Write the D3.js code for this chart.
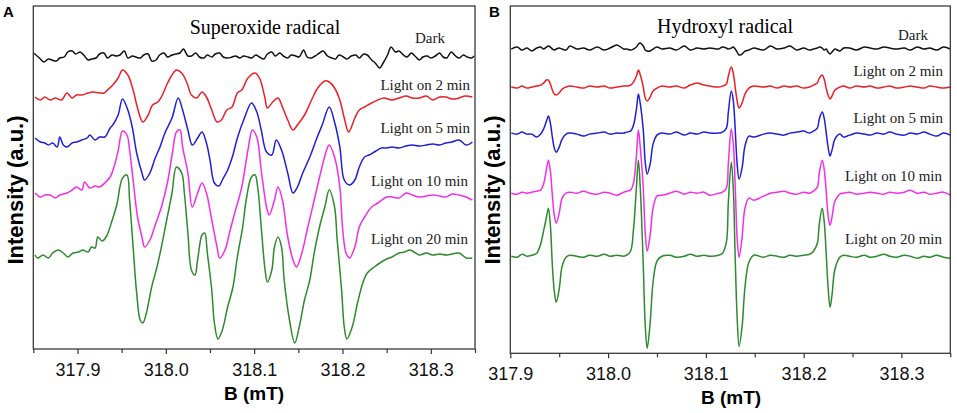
<!DOCTYPE html>
<meta charset="utf-8">
<style>
  body { margin: 0; background: #fff; }
  svg { display: block; }
  .tick text { font-family: "Liberation Sans", Arial, sans-serif; font-size: 18px; fill: #111; }
  .tick line { stroke: #333; stroke-width: 1.2; }
</style>
<svg width="957" height="413"></svg>
<script src="https://cdn.jsdelivr.net/npm/d3@7/dist/d3.min.js"></script>
<script>

var majorTicks = [317.9, 318.0, 318.1, 318.2, 318.3];
var minorTicks = [317.85, 317.95, 318.05, 318.15, 318.25, 318.35];
var traceNames = ["Dark", "Light on 2 min", "Light on 5 min", "Light on 10 min", "Light on 20 min"];

// A - superoxide (DMPO-O2), pairs of [B (mT), intensity (a.u.)]
var superoxideDark = [[317.850,4],[317.853,2],[317.858,-2],[317.862,-5],[317.867,-2],[317.871,-3],[317.876,-4],[317.880,-1],[317.885,0],[317.889,5],[317.894,6],[317.898,3],[317.903,5],[317.907,2],[317.912,-3],[317.916,-2],[317.921,-1],[317.925,3],[317.930,4],[317.934,-1],[317.939,2],[317.944,1],[317.948,2],[317.953,6],[317.957,-1],[317.962,1],[317.966,0],[317.971,-1],[317.975,2],[317.980,3],[317.984,-4],[317.989,-3],[317.993,2],[317.998,4],[318.002,0],[318.007,2],[318.011,3],[318.016,4],[318.020,8],[318.025,1],[318.029,1],[318.034,4],[318.038,0],[318.043,-1],[318.047,2],[318.052,0],[318.056,3],[318.061,4],[318.065,0],[318.070,-1],[318.075,0],[318.079,1],[318.084,-1],[318.088,1],[318.093,0],[318.097,-1],[318.102,2],[318.106,0],[318.111,-2],[318.115,3],[318.120,5],[318.124,1],[318.129,4],[318.133,1],[318.138,-1],[318.142,2],[318.147,1],[318.151,0],[318.156,7],[318.160,0],[318.165,-1],[318.169,1],[318.174,4],[318.178,6],[318.183,1],[318.188,-1],[318.192,-2],[318.196,2],[318.201,0],[318.205,-2],[318.210,1],[318.215,2],[318.219,-1],[318.224,3],[318.228,2],[318.233,-3],[318.237,-6],[318.242,-11],[318.246,-6],[318.251,2],[318.255,10],[318.260,5],[318.264,6],[318.269,2],[318.273,0],[318.278,4],[318.282,1],[318.287,-3],[318.291,0],[318.296,1],[318.300,-1],[318.305,1],[318.310,4],[318.314,0],[318.318,-1],[318.323,5],[318.328,1],[318.332,-1],[318.337,2],[318.341,0],[318.346,-1],[318.349,1]];

var superoxide2min = [[317.852,0],[317.858,-3],[317.863,0],[317.869,-3],[317.875,-1],[317.882,-3],[317.888,4],[317.894,-1],[317.899,2],[317.905,2],[317.912,4],[317.917,5],[317.925,4],[317.930,4],[317.934,7],[317.940,12],[317.946,19],[317.951,27],[317.957,22],[317.963,7],[317.968,-11],[317.974,-25],[317.980,-18],[317.985,-8],[317.991,-5],[317.995,0],[318.001,12],[318.007,22],[318.012,27],[318.018,24],[318.024,14],[318.029,2],[318.035,-1],[318.041,5],[318.046,0],[318.052,-13],[318.058,-25],[318.063,-23],[318.069,-13],[318.075,-10],[318.081,4],[318.086,7],[318.093,19],[318.101,24],[318.106,19],[318.112,0],[318.115,-11],[318.121,-5],[318.127,-1],[318.132,-10],[318.138,-23],[318.144,-33],[318.149,-28],[318.157,-18],[318.165,-3],[318.172,9],[318.180,16],[318.185,15],[318.191,9],[318.197,-3],[318.202,-21],[318.207,-35],[318.214,-21],[318.219,-13],[318.225,-10],[318.233,-6],[318.240,-3],[318.247,-1],[318.256,-3],[318.264,-1],[318.272,1],[318.279,-1],[318.287,-1],[318.295,1],[318.302,-3],[318.310,0],[318.317,0],[318.324,-2],[318.332,-1],[318.339,1],[318.347,0]];

var superoxide5min = [[317.852,4],[317.858,0],[317.863,-1],[317.867,-3],[317.872,-1],[317.877,-5],[317.880,5],[317.884,-3],[317.888,-5],[317.894,-1],[317.899,0],[317.905,2],[317.911,4],[317.914,7],[317.920,2],[317.925,5],[317.931,5],[317.937,14],[317.940,17],[317.946,27],[317.951,43],[317.957,32],[317.962,15],[317.967,-11],[317.973,-31],[317.976,-38],[317.982,-31],[317.988,-16],[317.993,-6],[317.999,9],[318.007,24],[318.014,44],[318.019,32],[318.025,12],[318.030,-3],[318.036,4],[318.041,10],[318.046,-1],[318.050,-18],[318.055,-41],[318.060,-44],[318.064,-38],[318.070,-28],[318.076,-13],[318.081,4],[318.089,24],[318.097,39],[318.103,30],[318.108,12],[318.114,-10],[318.120,-13],[318.125,2],[318.131,-8],[318.138,-31],[318.144,-51],[318.149,-45],[318.155,-31],[318.163,-15],[318.171,4],[318.177,17],[318.185,35],[318.191,20],[318.197,-5],[318.202,-38],[318.208,-43],[318.214,-38],[318.219,-25],[318.225,-15],[318.230,-13],[318.236,-10],[318.244,-6],[318.250,-6],[318.256,-5],[318.264,-6],[318.272,-4],[318.279,-3],[318.287,-4],[318.295,-3],[318.302,-2],[318.310,-3],[318.317,-1],[318.324,0],[318.332,2],[318.340,-3],[318.347,0]];

var superoxide10min = [[317.852,2],[317.858,-2],[317.863,0],[317.869,0],[317.875,-3],[317.880,0],[317.888,2],[317.894,5],[317.899,8],[317.905,5],[317.908,13],[317.914,7],[317.920,9],[317.925,8],[317.931,12],[317.937,18],[317.942,30],[317.946,44],[317.951,64],[317.956,60],[317.959,45],[317.963,15],[317.968,-22],[317.973,-42],[317.976,-52],[317.982,-45],[317.988,-30],[317.995,-12],[318.002,13],[318.008,45],[318.012,63],[318.016,65],[318.019,48],[318.025,22],[318.030,-12],[318.036,2],[318.041,12],[318.046,2],[318.052,-25],[318.058,-52],[318.061,-63],[318.067,-55],[318.072,-38],[318.078,-18],[318.086,8],[318.093,45],[318.098,65],[318.103,58],[318.108,25],[318.114,-12],[318.117,-20],[318.123,-5],[318.127,8],[318.132,-5],[318.138,-42],[318.144,-65],[318.148,-72],[318.154,-58],[318.160,-35],[318.168,-5],[318.176,25],[318.182,45],[318.185,50],[318.191,38],[318.197,8],[318.200,-32],[318.204,-58],[318.208,-63],[318.214,-52],[318.219,-32],[318.225,-22],[318.233,-12],[318.240,-8],[318.250,-2],[318.256,-2],[318.264,-3],[318.272,2],[318.279,0],[318.287,-2],[318.295,-1],[318.302,0],[318.310,-1],[318.317,-2],[318.324,1],[318.332,0],[318.340,-2],[318.347,-5]];

var superoxide20min = [[317.852,0],[317.855,-3],[317.861,0],[317.867,-3],[317.872,2],[317.878,5],[317.884,2],[317.889,-2],[317.895,2],[317.901,3],[317.906,5],[317.912,3],[317.916,8],[317.920,7],[317.923,18],[317.928,14],[317.933,19],[317.939,34],[317.945,52],[317.948,68],[317.951,77],[317.956,80],[317.959,55],[317.963,8],[317.967,-38],[317.971,-65],[317.974,-68],[317.978,-58],[317.984,-32],[317.990,-12],[317.995,8],[318.001,35],[318.007,62],[318.012,88],[318.018,82],[318.021,62],[318.025,22],[318.029,-15],[318.033,-20],[318.036,-5],[318.041,20],[318.044,22],[318.047,2],[318.052,-35],[318.055,-68],[318.059,-84],[318.064,-75],[318.070,-52],[318.076,-32],[318.081,-2],[318.087,28],[318.091,55],[318.097,78],[318.101,80],[318.104,68],[318.108,28],[318.112,-12],[318.115,-27],[318.120,-15],[318.123,8],[318.127,18],[318.131,8],[318.134,-25],[318.140,-65],[318.146,-88],[318.151,-72],[318.157,-45],[318.163,-25],[318.168,2],[318.174,28],[318.180,48],[318.185,65],[318.191,48],[318.194,15],[318.199,-35],[318.202,-72],[318.205,-84],[318.211,-72],[318.217,-48],[318.223,-28],[318.228,-18],[318.236,-12],[318.244,-7],[318.250,-4],[318.256,-2],[318.264,2],[318.270,3],[318.276,5],[318.281,3],[318.287,0],[318.295,2],[318.302,0],[318.310,1],[318.317,0],[318.324,1],[318.332,2],[318.340,-3],[318.347,-3]];

// stacking offsets of the five spectra (a.u.)
var superoxideOffsets = [292, 252, 207, 154, 94];

// B - hydroxyl (DMPO-OH), one field sweep shared by all five spectra
var hydroxylField = [
  317.901, 317.907, 317.912, 317.917, 317.922,
  317.927, 317.931, 317.934, 317.937, 317.939, 317.941, 317.943, 317.945, 317.947, 317.950, 317.953, 317.957, 317.961,
  317.968, 317.975, 317.981, 317.989, 317.996, 318.002, 318.009, 318.016,
  318.019, 318.023, 318.026, 318.029, 318.031, 318.033, 318.036, 318.038, 318.040, 318.043, 318.046, 318.050, 318.055,
  318.063, 318.070, 318.078, 318.084, 318.091, 318.098, 318.104,
  318.113, 318.117, 318.121, 318.123, 318.126, 318.128, 318.130, 318.132, 318.134, 318.137, 318.140, 318.144, 318.149,
  318.159, 318.166, 318.173, 318.180, 318.186, 318.193, 318.200,
  318.206, 318.210, 318.214, 318.216, 318.219, 318.221, 318.223, 318.225, 318.227, 318.229, 318.232, 318.237, 318.241,
  318.247, 318.254, 318.262, 318.268, 318.275, 318.282, 318.288, 318.295, 318.303, 318.309, 318.316, 318.323, 318.329, 318.336, 318.343, 318.350
];

var hydroxylDark = [
  -1, 1, -2, 0, -3,
  0, 1, -1, 1, 2, 1, -1, -2, -1, 0, -1, -2, 2,
  -1, 0, -2, 1, -2, 0, 3, -1,
  -1, -2, -1, 1, 4, 5, 2, -2, -3, -3, -1, 1, -1,
  0, -2, 2, -2, 0, -1, 0,
  -1, 1, 0, -1, 0, 1, -1, -4, -7, -6, -3, -2, 0,
  -2, 2, -1, 0, 2, -2, 0,
  -2, -1, 0, 1, 0, -2, -1, -4, -6, -4, -1, -3, 0,
  0, -2, 1, 0, -1, 1, 0, -1, 0, -2, 1, -1, 0, -2, 1, -1
];

var hydroxyl2min = [
  0, -1, 1, -1, 0,
  1, 2, 4, 7, 7, 3, -3, -7, -8, -6, -2, 0, 1,
  0, -1, 1, 0, 1, -1, 0, 1,
  1, 2, 5, 11, 17, 12, 0, -11, -14, -10, -4, -1, 1,
  0, 1, -1, 2, 4, 2, 1,
  0, 1, 3, 11, 20, 14, 0, -14, -21, -16, -7, -1, 1,
  0, 1, -1, 1, 0, 1, -1,
  0, 2, 4, 9, 12, 8, -1, -8, -12, -9, -3, 0, 1,
  -1, 1, 0, 1, -1, 0, 1, -1, 0, 1, 0, -1, 1, 0, -1, 0
];

var hydroxyl5min = [
  1, 0, 2, 0, 0,
  -3, 0, 5, 13, 18, 11, -3, -14, -18, -13, -5, 0, 1,
  0, -2, 0, 1, 2, 0, 1, 1,
  2, 3, 9, 25, 40, 30, 4, -28, -40, -30, -10, -1, 1,
  0, 2, -1, 1, 0, 2, 1,
  1, 2, 6, 22, 43, 34, 5, -30, -45, -34, -12, -2, -3,
  0, 1, 0, -1, 1, 2, 3,
  1, 3, 6, 15, 22, 16, 2, -13, -22, -16, -5, 0, -3,
  -1, 1, 0, -1, 1, 0, 2, 0, -1, 1, 0, 2, 0, -2, 1, -1
];

var hydroxyl10min = [
  0, -1, 1, 0, 1,
  2, 3, 9, 24, 33, 22, -2, -22, -30, -20, -5, 0, 1,
  0, 2, 0, -1, 1, 0, -2, 1,
  2, 3, 10, 38, 63, 45, 5, -40, -58, -42, -15, -3, -2,
  0, 2, -1, 1, 0, 1, -2,
  0, 1, 5, 30, 64, 50, 8, -45, -64, -45, -15, -5, -7,
  -3, 0, 1, 2, 0, -1, 1,
  0, 2, 6, 20, 33, 24, 3, -22, -32, -24, -8, -1, 0,
  1, -1, 0, 1, 0, -1, 1, 0, 1, 3, 0, 1, -1, 0, 1, -2
];

var hydroxyl20min = [
  1, 0, 3, 1, 2,
  4, 13, 26, 40, 49, 32, -8, -34, -45, -32, -9, 0, 2,
  1, 0, 2, 1, 3, 1, 2, 1,
  2, 6, 28, 70, 97, 68, -8, -68, -91, -66, -25, -4, 1,
  2, 0, 1, 3, 1, 2, 1,
  2, 4, 15, 55, 95, 70, 0, -60, -89, -70, -30, -5, 2,
  0, 2, 1, 0, 2, 1, 2,
  3, 6, 14, 33, 49, 36, 5, -30, -50, -38, -12, 0, 2,
  1, 0, 2, 0, 1, 3, 1, 0, 2, 1, -1, 1, 0, 2, 0, -1
];

var hydroxylOffsets = [305, 266, 219, 160, 96];

var colors = ["#111111", "#ec1f26", "#1f1fd8", "#f22ee8", "#2d8a2d"];

function pairUp(field, values) {
  return values.map(function(v, i) { return [field[i], v]; });
}

var panels = [
  {
    letter: "A", letterX: 3, title: "Superoxide radical", titleX: 265, titleY: 34,
    left: 33.3, right: 475, top: 6, bottom: 349, domain: [317.85, 318.35], yMax: 343,
    traces: [superoxideDark, superoxide2min, superoxide5min, superoxide10min, superoxide20min],
    offsets: superoxideOffsets,
    labelRight: [445, 470, 470, 468, 468], labelLift: [14, 7, 9, 9, 11],
    yLabelX: 23, axisLabelX: 254, axisLabelY: 400
  },
  {
    letter: "B", letterX: 489, title: "Hydroxyl radical", titleX: 725, titleY: 33,
    left: 510.3, right: 950.3, top: 6, bottom: 353.3, domain: [317.9, 318.35], yMax: 347,
    traces: [hydroxylDark, hydroxyl2min, hydroxyl5min, hydroxyl10min, hydroxyl20min].map(function(t) { return pairUp(hydroxylField, t); }),
    offsets: hydroxylOffsets,
    labelRight: [928, 943, 943, 942, 942], labelLift: [8, 11, 11, 12, 13],
    yLabelX: 500, axisLabelX: 731, axisLabelY: 404
  }
];

var svg = d3.select("svg");

panels.forEach(function(p) {
  var x = d3.scaleLinear().domain(p.domain).range([p.left, p.right]);
  var y = d3.scaleLinear().domain([0, p.yMax]).range([p.bottom, p.top]);
  var g = svg.append("g");

  // spectra
  var line = d3.line()
      .x(function(d) { return x(d[0]); })
      .curve(d3.curveCatmullRom.alpha(0.5));

  p.traces.forEach(function(t, i) {
    var off = p.offsets[i];
    g.append("path")
        .attr("d", line.y(function(d) { return y(d[1] + off); })(t))
        .attr("fill", "none")
        .attr("stroke", colors[i])
        .attr("stroke-width", 1.5)
        .attr("stroke-linejoin", "round");

    g.append("text")
        .attr("x", p.labelRight[i])
        .attr("y", y(off) - p.labelLift[i])
        .attr("text-anchor", "end")
        .style("font-family", "'Liberation Serif', 'Times New Roman', serif")
        .style("font-size", "15px")
        .style("fill", "#222")
        .text(traceNames[i]);
  });

  // frame
  g.append("rect")
      .attr("x", p.left).attr("y", p.top)
      .attr("width", p.right - p.left).attr("height", p.bottom - p.top)
      .attr("fill", "none").attr("stroke", "#3a3a3a").attr("stroke-width", 1.3);

  // bottom axis, major + minor
  var axis = g.append("g")
      .attr("transform", "translate(0," + p.bottom + ")")
      .call(d3.axisBottom(x).tickValues(majorTicks).tickSize(5).tickPadding(9)
        .tickFormat(d3.format(".1f")));
  axis.select(".domain").remove();

  var minor = g.append("g")
      .attr("transform", "translate(0," + p.bottom + ")")
      .call(d3.axisBottom(x)
        .tickValues(minorTicks.filter(function(v) { return v >= p.domain[0] && v <= p.domain[1] + 1e-9; }))
        .tickSize(4).tickFormat(""));
  minor.select(".domain").remove();

  g.append("text")
      .attr("x", p.axisLabelX).attr("y", p.axisLabelY)
      .attr("text-anchor", "middle")
      .style("font-family", "'Liberation Sans', Arial, sans-serif")
      .style("font-size", "19px").style("font-weight", "bold")
      .text("B (mT)");

  g.append("text")
      .attr("transform", "translate(" + p.yLabelX + ",190) rotate(-90)")
      .attr("text-anchor", "middle")
      .style("font-family", "'Liberation Sans', Arial, sans-serif")
      .style("font-size", "22px").style("font-weight", "bold")
      .text("Intensity (a.u.)");

  g.append("text")
      .attr("x", p.titleX).attr("y", p.titleY)
      .attr("text-anchor", "middle")
      .style("font-family", "'Liberation Serif', 'Times New Roman', serif")
      .style("font-size", "20px")
      .text(p.title);

  g.append("text")
      .attr("x", p.letterX).attr("y", 17)
      .style("font-family", "'Liberation Sans', Arial, sans-serif")
      .style("font-size", "15px").style("font-weight", "bold")
      .text(p.letter);
});

</script>
